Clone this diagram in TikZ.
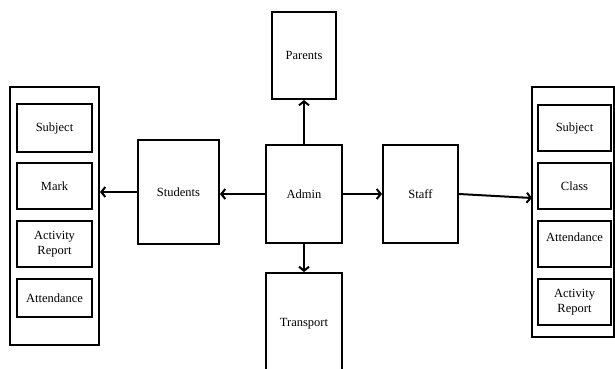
\documentclass[tikz,border=0pt]{standalone}
\usepackage{fontspec}
\setmainfont{Liberation Serif}
\usetikzlibrary{arrows.meta}
\begin{document}
\begin{tikzpicture}[x=1pt,y=-1pt,
  box/.style={draw, line width=2pt, inner sep=0pt, align=center, font=\fontsize{12.5}{14.5}\selectfont},
  arr/.style={line width=2pt, -{Straight Barb[length=4pt,width=10pt,line width=2pt]}}]
\useasboundingbox (0,0) rectangle (615,368);
% left group
\node[box, minimum width=89pt, minimum height=258pt] (leftC) at (54.5,216) {};
\node[box, minimum width=75pt, minimum height=48pt] (lSubj) at (54.5,128) {Subject};
\node[box, minimum width=75pt, minimum height=46pt] (lMark) at (54.5,186) {Mark};
\node[box, minimum width=75pt, minimum height=46pt] (lAct) at (54.5,244) {Activity\\Report};
\node[box, minimum width=75pt, minimum height=38pt] (lAtt) at (54.5,298) {Attendance};
% center
\node[box, minimum width=81pt, minimum height=104pt] (students) at (178.5,192) {Students};
\node[box, minimum width=64pt, minimum height=87pt] (parents) at (304,55.5) {Parents};
\node[box, minimum width=76pt, minimum height=98pt] (admin) at (304,194) {Admin};
\node[box, minimum width=75pt, minimum height=98pt] (staff) at (420.5,194) {Staff};
\node[box, minimum width=76pt, minimum height=102pt] (transport) at (304,324) {Transport};
% right group
\node[box, minimum width=82pt, minimum height=250pt] (rightC) at (573,212) {};
\node[box, minimum width=73pt, minimum height=46pt] (rSubj) at (574.5,128) {Subject};
\node[box, minimum width=73pt, minimum height=46pt] (rClass) at (574.5,186) {Class};
\node[box, minimum width=73pt, minimum height=46pt] (rAtt) at (574.5,244) {Attendance\\\mbox{}};
\node[box, minimum width=73pt, minimum height=46pt] (rAct) at (574.5,302) {Activity\\Report};
\coordinate (rIn) at (532,198);
% connectors
\draw[arr] (admin.west) -- (admin.west -| students.east);
\draw[arr] (students.west) -- (students.west -| leftC.east);
\draw[arr] (admin.north) -- (parents.south);
\draw[arr] (admin.south) -- (transport.north);
\draw[arr] (admin.east) -- (staff.west);
\draw[arr] (staff.east) -- (rIn);
\end{tikzpicture}
\end{document}
